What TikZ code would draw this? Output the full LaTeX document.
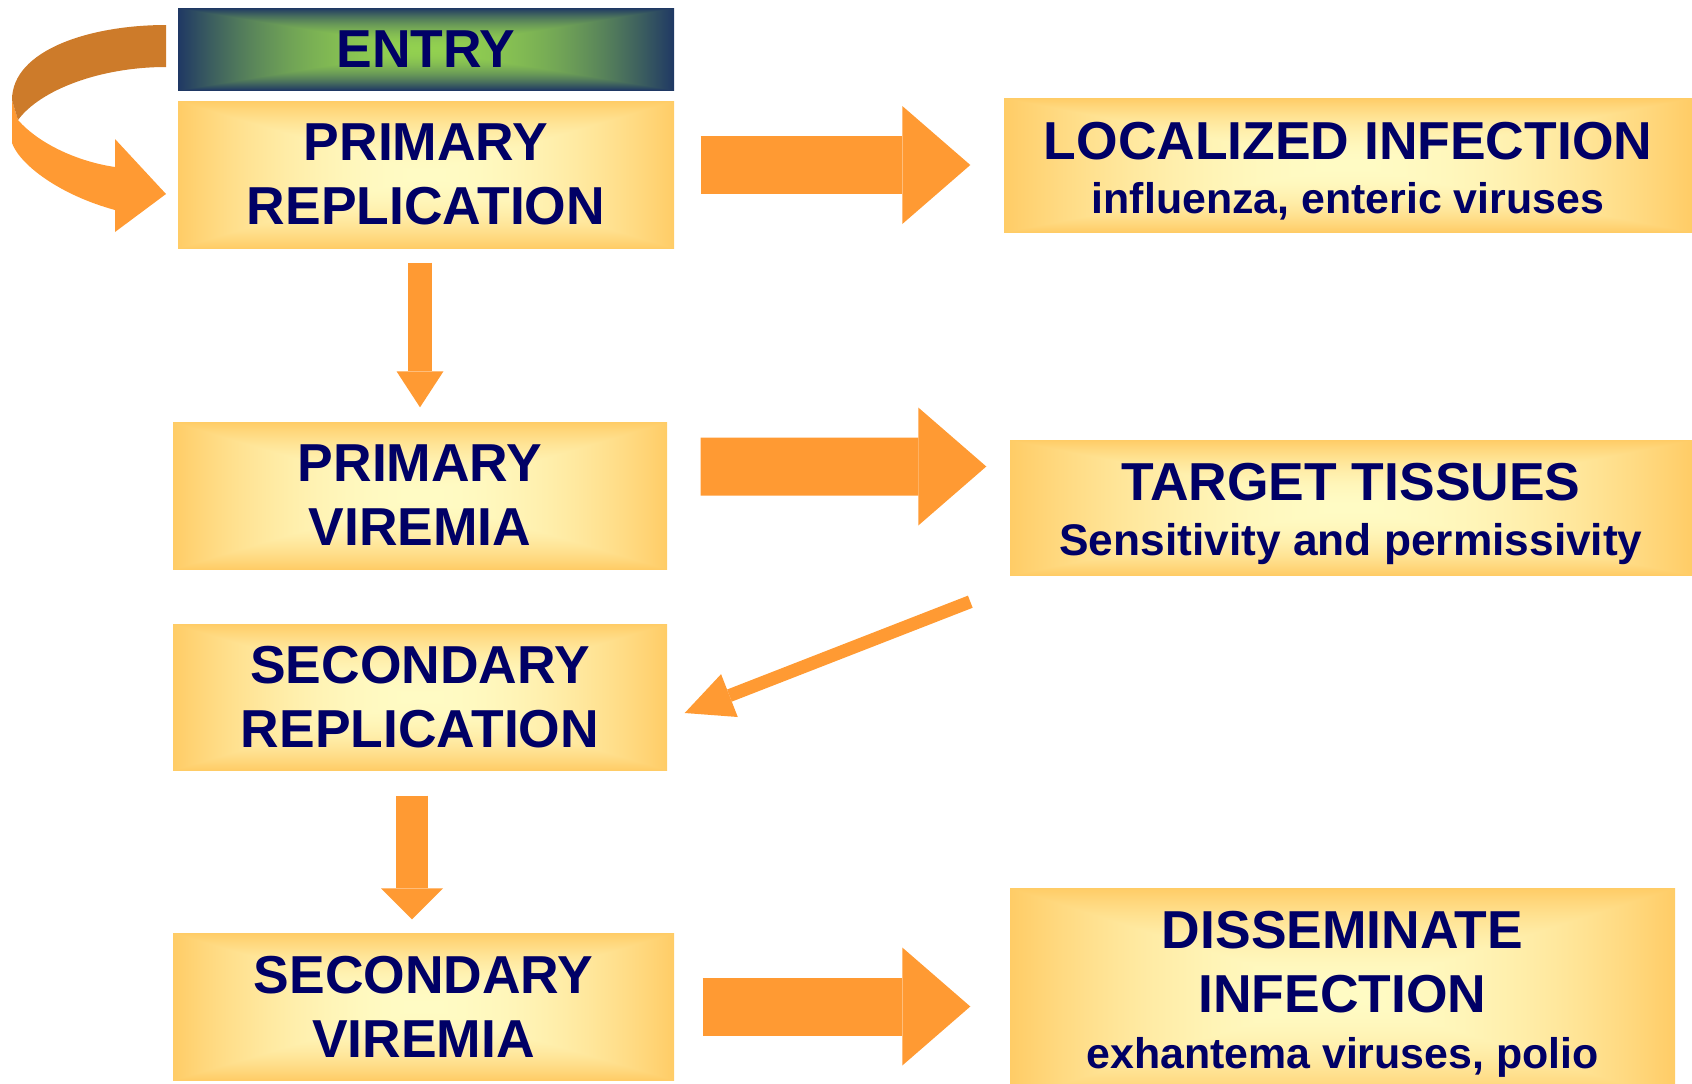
\documentclass[tikz,border=0pt]{standalone}
\usepackage{fontspec}
\setmainfont{Liberation Sans}
\usetikzlibrary{arrows.meta}

\definecolor{ink}{HTML}{000066}
\definecolor{orange}{HTML}{FF9A33}
\definecolor{darkorange}{HTML}{CD7B2A}

% rectangular glow: t = max(|x|,|y|)/25, the 50bp middle square fills the box
% yellow boxes: FFFBC4 -> FFCC66
\pgfdeclarefunctionalshading{boxglow}{\pgfpoint{-50bp}{-50bp}}{\pgfpoint{50bp}{50bp}}{}{
    abs exch abs 2 copy lt {exch} if pop 25 div dup 1 gt {pop 1} if dup mul
    dup 0 mul 1 add exch
    dup -0.184 mul 0.984 add exch
    -0.369 mul 0.769 add
}
% entry box: 92D050 -> 1F3864
\pgfdeclarefunctionalshading{entryglow}{\pgfpoint{-50bp}{-50bp}}{\pgfpoint{50bp}{50bp}}{}{
    abs exch abs 2 copy lt {exch} if pop 25 div dup 1 gt {pop 1} if dup mul
    dup -0.451 mul 0.573 add exch
    dup -0.596 mul 0.816 add exch
    0.078 mul 0.314 add
}

\newcommand{\subline}[1][12.2]{\fontsize{#1}{18.2}\selectfont}

\tikzset{
    stage/.style={rectangle, shading=boxglow, text=ink, align=center, inner sep=0pt,
        font=\fontsize{15.2}{18.2}\selectfont\bfseries},
    fatarrow/.style={draw=orange, line width=5.8mm,
        -{Triangle[length=6.8mm, width=11.8mm, line width=0pt]}},
    downarrow/.style={draw=orange, line width=#1},
    thinarrow/.style={draw=orange, line width=1.3mm,
        -{Triangle[length=4.8mm, width=4.6mm, line width=0pt]}}
}

\begin{document}
\begin{tikzpicture}[x=0.1mm, y=-0.1mm]
    \useasboundingbox (0,0) rectangle (1692,1084);

    % left column
    \node[stage, shading=entryglow, minimum width=49.6mm, minimum height=8.2mm] (entry) at (426,49) {ENTRY};
    \node[stage, minimum width=49.6mm, minimum height=14.7mm] (prirep) at (426,174.5) {PRIMARY\\REPLICATION};
    \node[stage, minimum width=49.4mm, minimum height=14.7mm] (privir) at (420,495.5) {PRIMARY\\VIREMIA};
    \node[stage, minimum width=49.4mm, minimum height=14.6mm] (secrep) at (420,697) {SECONDARY\\REPLICATION};
    \node[stage, minimum width=50.1mm, minimum height=14.7mm] (secvir) at (423.5,1006.5) {SECONDARY\\VIREMIA};

    % right column
    \node[stage, minimum width=68.8mm, minimum height=13.4mm] (locinf) at (1348,165)
        {\rule{0pt}{14.3pt}LOCALIZED INFECTION\\[-2.8pt]{\subline influenza, enteric viruses}};
    \node[stage, minimum width=68.2mm, minimum height=13.5mm] (target) at (1351,507.5)
        {\rule{0pt}{14.3pt}TARGET TISSUES\\[-2.8pt]{\subline[12.6]Sensitivity and permissivity}};
    \node[stage, minimum width=66.5mm, minimum height=21.2mm] (dissem) at (1342.5,994)
        {DISSEMINATE\\INFECTION\\[-2.3pt]{\subline exhantema viruses, polio}};

    % curled arrow into the first stage
    \fill[orange] (12,100) -- (12,143) .. controls (20,165) and (60,195) .. (115,210)
        -- (115,232) -- (166,194) -- (115,139) -- (115,167)
        .. controls (80,162) and (40,145) .. (18,120) -- cycle;
    \fill[darkorange] (166,25) .. controls (90,25) and (12,50) .. (12,100)
        -- (18,120) .. controls (40,90) and (100,67) .. (166,67) -- cycle;

    \draw[fatarrow, shorten <=2.6mm, shorten >=3.3mm] (prirep.east |- locinf.west) -- (locinf.west);
    \draw[fatarrow, shorten <=3.3mm, shorten >=2.3mm] ([yshift=2.9mm]privir.east) -- ([yshift=4.1mm]target.west);
    \draw[fatarrow, shorten <=2.8mm, shorten >=3.9mm] (secvir.east) -- (secvir.east -| dissem.west);

    \draw[downarrow=2.4mm, -{Triangle[length=3.6mm, width=4.7mm, line width=0pt]},
        shorten <=1.4mm, shorten >=1.4mm] (prirep.south -| privir.north) -- (privir.north);
    \draw[downarrow=3.2mm, -{Triangle[length=3.1mm, width=6.2mm, line width=0pt]},
        shorten <=2.5mm, shorten >=1.3mm] ([xshift=-0.8mm]secrep.south) -- ([xshift=-0.8mm]secrep.south |- secvir.north);

    \draw[thinarrow] ([shift={(-3.9mm,-2.6mm)}]target.south west) -- ([shift={(1.7mm,-1.6mm)}]secrep.east);
\end{tikzpicture}
\end{document}
